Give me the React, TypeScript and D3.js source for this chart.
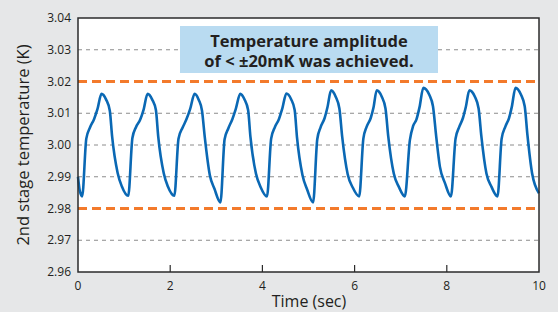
import * as d3 from "d3";

const timeSec = [
  0, 0.04,
  0.09, 0.18, 0.26, 0.35, 0.42, 0.51, 0.61, 0.69, 0.74, 0.86, 0.95,
  1.09, 1.18, 1.26, 1.35, 1.42, 1.51, 1.61, 1.69, 1.74, 1.86, 1.95,
  2.09, 2.18, 2.27, 2.35, 2.43, 2.53, 2.62, 2.69, 2.75, 2.86, 2.96,
  3.09, 3.18, 3.26, 3.35, 3.42, 3.52, 3.61, 3.69, 3.74, 3.86, 3.96,
  4.10, 4.19, 4.27, 4.36, 4.43, 4.52, 4.62, 4.70, 4.75, 4.87, 4.97,
  5.10, 5.19, 5.26, 5.35, 5.41, 5.49, 5.59, 5.67, 5.73, 5.85, 5.96,
  6.10, 6.19, 6.26, 6.35, 6.41, 6.48, 6.59, 6.67, 6.73, 6.85, 6.96,
  7.09, 7.20, 7.27, 7.34, 7.41, 7.49, 7.62, 7.70, 7.77, 7.85, 7.96,
  8.09, 8.19, 8.27, 8.35, 8.41, 8.49, 8.61, 8.69, 8.75, 8.86, 8.97,
  9.10, 9.19, 9.27, 9.35, 9.41, 9.49, 9.61, 9.69, 9.75, 9.85, 10.0,
];

const tempK = [
  2.9900, 2.9855,
  2.9838, 3.0020, 3.0055, 3.0082, 3.0112, 3.0161, 3.0143, 3.0108, 3.0027, 2.9912, 2.9870,
  2.9840, 3.0022, 3.0057, 3.0080, 3.0110, 3.0161, 3.0143, 3.0110, 3.0027, 2.9911, 2.9869,
  2.9840, 3.0020, 3.0055, 3.0080, 3.0112, 3.0161, 3.0142, 3.0108, 3.0025, 2.9905, 2.9862,
  2.9819, 3.0018, 3.0052, 3.0082, 3.0112, 3.0161, 3.0144, 3.0110, 3.0026, 2.9910, 2.9868,
  2.9838, 3.0020, 3.0056, 3.0082, 3.0114, 3.0162, 3.0145, 3.0110, 3.0025, 2.9905, 2.9860,
  2.9819, 3.0018, 3.0055, 3.0085, 3.0118, 3.0172, 3.0152, 3.0115, 3.0027, 2.9908, 2.9866,
  2.9838, 3.0020, 3.0057, 3.0085, 3.0118, 3.0172, 3.0152, 3.0115, 3.0027, 2.9910, 2.9868,
  2.9838, 3.0016, 3.0060, 3.0080, 3.0120, 3.0180, 3.0158, 3.0122, 3.0027, 2.9932, 2.9880,
  2.9838, 3.0020, 3.0057, 3.0085, 3.0118, 3.0172, 3.0152, 3.0115, 3.0027, 2.9910, 2.9868,
  2.9838, 3.0020, 3.0058, 3.0085, 3.0120, 3.0180, 3.0158, 3.0122, 3.0030, 2.9911, 2.9848,
];

const xTicks = [0, 2, 4, 6, 8, 10];
const yTicks = [2.96, 2.97, 2.98, 2.99, 3.0, 3.01, 3.02, 3.03, 3.04];
const limitLines = [3.02, 2.98];
const gridLines = [3.03, 3.01, 3.0, 2.99, 2.97];
const noteLines = ["Temperature amplitude", "of < \u00b120mK was achieved."];

const W = 558;
const H = 312;
const margin = { top: 18, right: 19, bottom: 40, left: 78 };
const font = "'Open Sans', 'Noto Sans', sans-serif";

export default function App() {
  const x = d3.scaleLinear().domain([0, 10]).range([margin.left, W - margin.right]);
  const y = d3.scaleLinear().domain([2.96, 3.04]).range([H - margin.bottom, margin.top]);

  const points = timeSec.map((t, i) => ({ t, v: tempK[i] }));
  const line = d3
    .line<{ t: number; v: number }>()
    .x((d) => x(d.t))
    .y((d) => y(d.v))
    .curve(d3.curveMonotoneX);

  const x0 = x(0);
  const x1 = x(10);
  const y0 = y(2.96);
  const y1 = y(3.04);

  return (
    <svg
      width={W}
      height={H}
      style={{ position: "absolute", left: 0, top: 0, display: "block" }}
      fontFamily={font}
    >
      <rect x={0} y={0} width={W} height={H} fill="#e6e7e8" />
      <rect x={x0} y={y1} width={x1 - x0} height={y0 - y1} fill="#ffffff" />

      {/* grid */}
      {gridLines.map((g) => (
        <line
          key={g}
          x1={x0}
          x2={x1}
          y1={y(g)}
          y2={y(g)}
          stroke="#8c8c8c"
          strokeWidth={1}
          strokeDasharray="4,4"
        />
      ))}

      {/* note box */}
      <rect x={180} y={26} width={258} height={47} fill="#b9dbf1" />
      <text x={309} y={47} textAnchor="middle" fontSize={16.5} fontWeight="bold" fill="#231f20">
        {noteLines.map((s, i) => (
          <tspan key={s} x={309} dy={i === 0 ? 0 : 20}>
            {s}
          </tspan>
        ))}
      </text>

      {/* limit lines */}
      {limitLines.map((l) => (
        <line
          key={l}
          x1={x0}
          x2={x1}
          y1={y(l)}
          y2={y(l)}
          stroke="#f37a2b"
          strokeWidth={3}
          strokeDasharray="9,5"
        />
      ))}

      <path d={line(points) ?? ""} fill="none" stroke="#0a68b4" strokeWidth={2.6} strokeLinejoin="round" />

      {/* frame */}
      <rect x={x0} y={y1} width={x1 - x0} height={y0 - y1} fill="none" stroke="#2b2b2b" strokeWidth={1.5} />

      {/* x ticks */}
      {xTicks.map((t) => (
        <g key={t}>
          {t > 0 && t < 10 && (
            <line x1={x(t)} x2={x(t)} y1={y0} y2={y0 - 7} stroke="#2b2b2b" strokeWidth={1.2} />
          )}
          <text x={x(t)} y={y0 + 18} textAnchor="middle" fontSize={12} fill="#231f20">
            {t}
          </text>
        </g>
      ))}

      {/* y ticks */}
      {yTicks.map((t) => (
        <text key={t} x={x0 - 7} y={y(t) + 4} textAnchor="end" fontSize={12} fill="#231f20">
          {t.toFixed(2)}
        </text>
      ))}

      <text x={309} y={H - 5} textAnchor="middle" fontSize={16} fill="#231f20">
        Time (sec)
      </text>
      <text
        transform={`translate(29,${(y0 + y1) / 2}) rotate(-90)`}
        textAnchor="middle"
        fontSize={16.5}
        fill="#231f20"
      >
        2nd stage temperature (K)
      </text>
    </svg>
  );
}
